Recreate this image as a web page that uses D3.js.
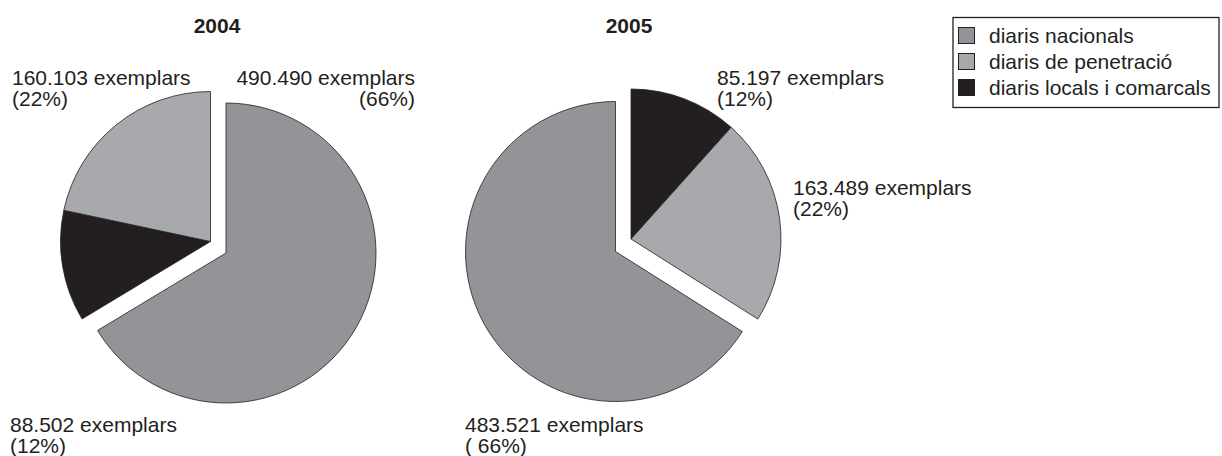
<!DOCTYPE html>
<html>
<head>
<meta charset="utf-8">
<script src="https://cdn.jsdelivr.net/npm/d3@7"></script>
<style>
  html, body { margin: 0; padding: 0; background: #ffffff; }
  svg { display: block; }
  text { font-family: "Liberation Sans", Arial, Helvetica, sans-serif; fill: #231f20; }
</style>
</head>
<body>
<svg id="chart" width="1222" height="456"></svg>
<script>
// ---- data ----
const categories = ["diaris nacionals", "diaris de penetració", "diaris locals i comarcals"];
const years = ["2004", "2005"];
const values2004 = [490490, 160103, 88502];
const values2005 = [483521, 163489, 85197];
const pctLabels2004 = ["(66%)", "(22%)", "(12%)"];
const pctLabels2005 = ["( 66%)", "(22%)", "(12%)"];
// clockwise slice order starting at 12 o'clock (indices into categories)
const order2004 = [0, 2, 1];
const order2005 = [2, 1, 0];

const colors = d3.scaleOrdinal()
  .domain(categories)
  .range(["#939498", "#a8a9ad", "#231f20"]);

const locale = d3.formatLocale({ decimal: ",", thousands: ".", grouping: [3], currency: ["", "€"] });
const fmt = locale.format(",d");

const svg = d3.select("#chart");
const R = 150;

const pies = [
  { year: years[0], values: values2004, pct: pctLabels2004, order: order2004, cx: 210.5, cy: 241.5,
    explode: [15.5, 11.5],
    labels: [
      { i: 0, x: 415, y: 85, anchor: "end" },
      { i: 1, x: 12, y: 85, anchor: "start" },
      { i: 2, x: 10, y: 432, anchor: "start" }
    ], titleX: 217 },
  { year: years[1], values: values2005, pct: pctLabels2005, order: order2005, cx: 631, cy: 239,
    explode: [-15.5, 12.5],
    labels: [
      { i: 0, x: 465, y: 432, anchor: "start" },
      { i: 1, x: 793, y: 195, anchor: "start" },
      { i: 2, x: 717, y: 85, anchor: "start" }
    ], titleX: 629 }
];

const arc = d3.arc().innerRadius(0).outerRadius(R);

pies.forEach(p => {
  const items = p.order.map(i => ({ i, cat: categories[i], value: p.values[i] }));
  const arcs = d3.pie().sort(null).value(d => d.value)(items);
  const g = svg.append("g").attr("transform", `translate(${p.cx},${p.cy})`);
  g.selectAll("path")
    .data(arcs)
    .join("path")
    .attr("d", arc)
    .attr("transform", d => d.data.i === 0 ? `translate(${p.explode[0]},${p.explode[1]})` : null)
    .attr("fill", d => colors(d.data.cat))
    .attr("stroke", "#231f20")
    .attr("stroke-width", 0.8)
    .attr("stroke-linejoin", "miter");

  svg.append("text")
    .attr("x", p.titleX).attr("y", 33)
    .attr("text-anchor", "middle")
    .attr("font-weight", "bold")
    .attr("font-size", 21)
    .text(p.year);

  p.labels.forEach(l => {
    const t = svg.append("text")
      .attr("font-size", 21)
      .attr("text-anchor", l.anchor);
    t.append("tspan").attr("x", l.x).attr("y", l.y).text(fmt(p.values[l.i]) + " exemplars");
    t.append("tspan").attr("x", l.x).attr("y", l.y + 21).text(p.pct[l.i]);
  });
});

// ---- legend ----
const lg = svg.append("g");
lg.append("rect")
  .attr("x", 953).attr("y", 17.5).attr("width", 266).attr("height", 90)
  .attr("fill", "none").attr("stroke", "#231f20").attr("stroke-width", 1.3);
const rows = lg.selectAll("g.row").data(categories).join("g")
  .attr("class", "row")
  .attr("transform", (d, k) => `translate(0,${k * 26})`);
rows.append("rect")
  .attr("x", 958.5).attr("y", 27.5).attr("width", 16).attr("height", 16)
  .attr("fill", d => colors(d)).attr("stroke", "#231f20").attr("stroke-width", 1);
rows.append("text")
  .attr("x", 989).attr("y", 43)
  .attr("font-size", 21)
  .text(d => d);
</script>
</body>
</html>
